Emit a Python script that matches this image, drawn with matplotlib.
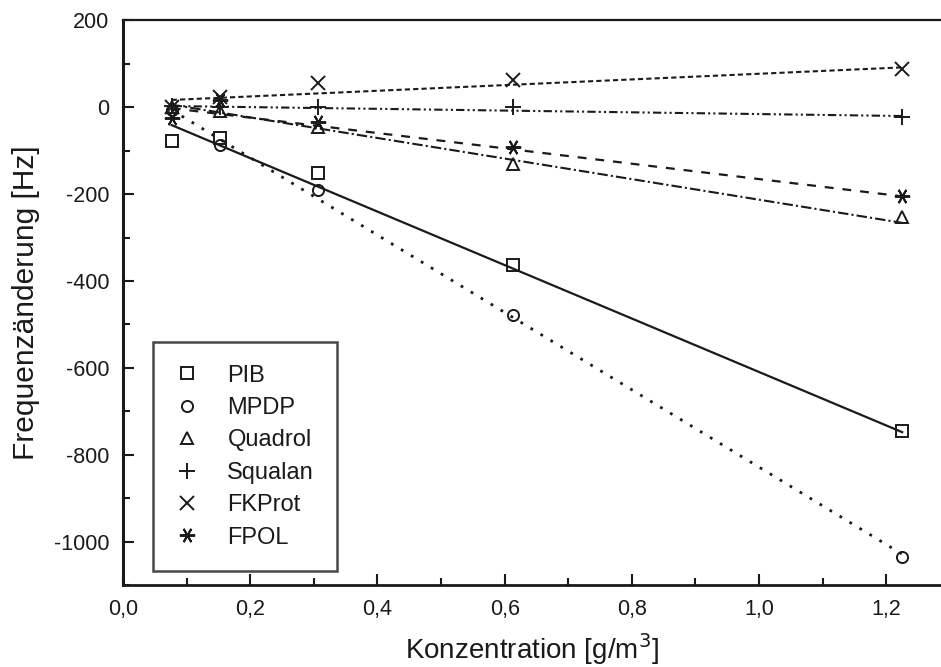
import matplotlib
matplotlib.use("Agg")
import matplotlib.pyplot as plt
from matplotlib.ticker import MultipleLocator, FuncFormatter

plt.rcParams['font.family'] = ['Liberation Sans', 'DejaVu Sans']

# Concentrations [g/m^3]
konz = [0.0766, 0.153, 0.306, 0.613, 1.225]

# Measured frequency changes [Hz]
pib = [-77, -70, -152, -363, -746]
mpdp = [-5, -87, -191, -478, -1036]
quadrol = [0, -8, -45, -130, -252]
squalan = [3, 0, 1, 0, -22]
fkprot = [0, 23, 55, 62, 88]
fpol = [-25, 18, -34, -91, -204]

# Linear fit lines, value at first and last concentration
fit_x = [konz[0], konz[-1]]
pib_fit = [-41, -748]
mpdp_fit = [-6, -1029]
quadrol_fit = [6, -266]
squalan_fit = [3, -20]
fkprot_fit = [17, 92]
fpol_fit = [-2, -205]

names = ['PIB', 'MPDP', 'Quadrol', 'Squalan', 'FKProt', 'FPOL']
values = [pib, mpdp, quadrol, squalan, fkprot, fpol]
fits = [pib_fit, mpdp_fit, quadrol_fit, squalan_fit, fkprot_fit, fpol_fit]

markers = ['s', 'o', '^', '+', 'x', (6, 2, 90)]
msizes = [8, 8, 9, 11, 10, 11]
linestyles = ['-', (0, (1, 3.2)), (0, (5, 1.5, 1, 1.5)),
              (0, (4, 1.5, 1, 1.5, 1, 1.5)), (0, (2.5, 1.5)), (0, (4, 4))]
linewidths = [1.6, 2.0, 1.5, 1.5, 1.5, 1.6]

fig = plt.figure(figsize=(9.41, 6.67), dpi=100)
ax = fig.add_axes([0.1307, 0.1229, 0.8693, 0.8464])

ink = '#1a1a1a'
for name, vals, fit, mk, ms, ls, lw in zip(names, values, fits, markers,
                                           msizes, linestyles, linewidths):
    ax.plot(fit_x, fit, linestyle=ls, color=ink, linewidth=lw)
    ax.plot(konz, vals, linestyle='none', marker=mk, markersize=ms,
            markerfacecolor='none', markeredgecolor=ink, markeredgewidth=1.4,
            label=name)

ax.set_xlim(0, 1.286)
ax.set_ylim(-1100, 200)
ax.xaxis.set_major_locator(MultipleLocator(0.2))
ax.xaxis.set_minor_locator(MultipleLocator(0.1))
ax.yaxis.set_major_locator(MultipleLocator(200))
ax.yaxis.set_minor_locator(MultipleLocator(100))
ax.xaxis.set_major_formatter(FuncFormatter(lambda v, p: f"{v:.1f}".replace('.', ',')))
ax.yaxis.set_major_formatter(FuncFormatter(lambda v, p: f"{v:.0f}"))

ax.tick_params(which='both', direction='in', top=False, right=False,
               color=ink, width=1.5, labelsize=15.5, labelcolor=ink)
ax.tick_params(which='major', length=8, pad=10)
ax.tick_params(which='minor', length=5)

ax.spines['right'].set_visible(False)
ax.spines['left'].set_linewidth(2.2)
ax.spines['bottom'].set_linewidth(2.0)
ax.spines['top'].set_linewidth(1.6)
for s in ('left', 'bottom', 'top'):
    ax.spines[s].set_color(ink)

ax.set_xlabel('Konzentration [g/m$^3$]', fontsize=20, color=ink, labelpad=8)
ax.set_ylabel('Frequenzänderung [Hz]', fontsize=21.5, color=ink, labelpad=10)

leg = ax.legend(loc='lower left', bbox_to_anchor=(0.0367, 0.0248), frameon=True,
                fancybox=False, edgecolor=ink, fontsize=17, handlelength=1.0,
                handletextpad=1.2, borderpad=0.95, labelspacing=0.44,
                borderaxespad=0)
leg.get_frame().set_linewidth(1.8)
for t in leg.get_texts():
    t.set_color(ink)

fig.savefig('out.png', dpi=100)
